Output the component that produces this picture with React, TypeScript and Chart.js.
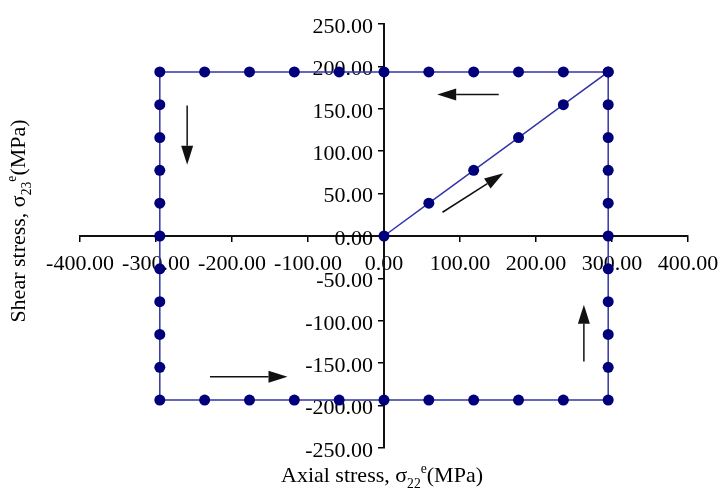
import React, { useEffect, useRef } from "react";
import { Chart, registerables } from "chart.js";

Chart.register(...registerables);

// Loading path (stress states), in MPa
const pathX = [
  0, 59, 118, 177, 236, 295,
  236, 177, 118, 59, 0, -59, -118, -177, -236, -295,
  -295, -295, -295, -295, -295, -295, -295, -295, -295, -295,
  -236, -177, -118, -59, 0, 59, 118, 177, 236, 295,
  295, 295, 295, 295, 295, 295, 295, 295, 295, 295,
];
const pathY = [
  0, 38.7, 77.4, 116.1, 154.8, 193.5,
  193.5, 193.5, 193.5, 193.5, 193.5, 193.5, 193.5, 193.5, 193.5, 193.5,
  154.8, 116.1, 77.4, 38.7, 0, -38.7, -77.4, -116.1, -154.8, -193.5,
  -193.5, -193.5, -193.5, -193.5, -193.5, -193.5, -193.5, -193.5, -193.5, -193.5,
  -154.8, -116.1, -77.4, -38.7, 0, 38.7, 77.4, 116.1, 154.8, 193.5,
];

// Direction arrows (data units)
const arrowFromX = [-259, 151, 77, -229, 263];
const arrowFromY = [154, 167, 28, -166, -148];
const arrowToX = [-259, 70, 157, -127, 263];
const arrowToY = [84, 167, 74, -166, -81];

const xTicks = [-400, -300, -200, -100, 0, 100, 200, 300, 400];
const yTicks = [-250, -200, -150, -100, -50, 0, 50, 100, 150, 200, 250];

const FONT = "'Liberation Serif', 'Times New Roman', serif";

function drawRich(
  ctx: CanvasRenderingContext2D,
  parts: { t: string; k: "n" | "sub" | "sup" }[],
  size: number
) {
  const measure = (p: { t: string; k: string }) => {
    const s = p.k === "n" ? size : size * 0.62;
    ctx.font = `${s}px ${FONT}`;
    return ctx.measureText(p.t).width;
  };
  const total = parts.reduce((a, p) => a + measure(p), 0);
  let x = -total / 2;
  for (const p of parts) {
    const s = p.k === "n" ? size : size * 0.62;
    ctx.font = `${s}px ${FONT}`;
    const dy = p.k === "sub" ? size * 0.28 : p.k === "sup" ? -size * 0.42 : 0;
    ctx.fillText(p.t, x, dy);
    x += ctx.measureText(p.t).width;
  }
}

const overlayPlugin = {
  id: "overlay",
  afterDatasetsDraw(chart: any) {
    const ctx: CanvasRenderingContext2D = chart.ctx;
    const xs = chart.scales.x;
    const ys = chart.scales.y;
    ctx.save();
    // arrows
    ctx.strokeStyle = "#111";
    ctx.fillStyle = "#111";
    ctx.lineWidth = 1.5;
    for (let i = 0; i < arrowFromX.length; i++) {
      const x1 = xs.getPixelForValue(arrowFromX[i]);
      const y1 = ys.getPixelForValue(arrowFromY[i]);
      const x2 = xs.getPixelForValue(arrowToX[i]);
      const y2 = ys.getPixelForValue(arrowToY[i]);
      const ang = Math.atan2(y2 - y1, x2 - x1);
      const hl = 19;
      const hw = 6;
      const bx = x2 - hl * Math.cos(ang);
      const by = y2 - hl * Math.sin(ang);
      ctx.beginPath();
      ctx.moveTo(x1, y1);
      ctx.lineTo(bx, by);
      ctx.stroke();
      ctx.beginPath();
      ctx.moveTo(x2, y2);
      ctx.lineTo(bx + hw * Math.sin(ang), by - hw * Math.cos(ang));
      ctx.lineTo(bx - hw * Math.sin(ang), by + hw * Math.cos(ang));
      ctx.closePath();
      ctx.fill();
    }
    // titles
    ctx.fillStyle = "#000";
    ctx.textBaseline = "alphabetic";
    ctx.textAlign = "left";
    ctx.save();
    ctx.translate(382, 482);
    drawRich(
      ctx,
      [
        { t: "Axial stress, σ", k: "n" },
        { t: "22", k: "sub" },
        { t: "e", k: "sup" },
        { t: "(MPa)", k: "n" },
      ],
      22
    );
    ctx.restore();
    ctx.save();
    ctx.translate(25, 221);
    ctx.rotate(-Math.PI / 2);
    drawRich(
      ctx,
      [
        { t: "Shear stress, σ", k: "n" },
        { t: "23", k: "sub" },
        { t: "e", k: "sup" },
        { t: "(MPa)", k: "n" },
      ],
      22
    );
    ctx.restore();
    ctx.restore();
  },
};

export default function App() {
  const ref = useRef<HTMLCanvasElement>(null);
  useEffect(() => {
    if (!ref.current) return;
    const data = pathX.map((x, i) => ({ x, y: pathY[i] }));
    const chart = new Chart(ref.current, {
      type: "scatter",
      data: {
        datasets: [
          {
            data,
            showLine: true,
            borderColor: "#3434aa",
            borderWidth: 1.5,
            backgroundColor: "#00007a",
            pointBackgroundColor: "#00007a",
            pointBorderColor: "#00007a",
            pointRadius: 5.5,
            pointBorderWidth: 0,
          },
        ],
      },
      options: {
        animation: false,
        responsive: false,
        layout: { padding: { left: 80, right: 32, top: 24, bottom: 49 } },
        plugins: { legend: { display: false }, tooltip: { enabled: false } },
        scales: {
          x: {
            type: "linear",
            min: -400,
            max: 400,
            position: { y: 0 } as any,
            afterBuildTicks: (s: any) => {
              s.ticks = xTicks.map((v) => ({ value: v }));
            },
            grid: { display: true, drawOnChartArea: false, drawTicks: true, tickLength: 5, color: "#000", lineWidth: 1.5 },
            border: { display: true, color: "#111", width: 2 },
            ticks: {
              color: "#000",
              font: { family: FONT, size: 22, lineHeight: 2.1 },
              padding: 0,
              maxRotation: 0,
              autoSkip: false,
              callback: (v: any) => Number(v).toFixed(2),
            },
          },
          y: {
            type: "linear",
            min: -250,
            max: 250,
            position: { x: 0 } as any,
            afterBuildTicks: (s: any) => {
              s.ticks = yTicks.map((v) => ({ value: v }));
            },
            grid: { display: true, drawOnChartArea: false, drawTicks: true, tickLength: 5, color: "#000", lineWidth: 1.5 },
            border: { display: true, color: "#111", width: 2 },
            ticks: {
              color: "#000",
              font: { family: FONT, size: 22 },
              padding: 2,
              labelOffset: 3,
              autoSkip: false,
              callback: (v: any) => Number(v).toFixed(2) + "  ",
            },
          },
        },
      },
      plugins: [overlayPlugin],
    });
    return () => chart.destroy();
  }, []);
  return (
    <div style={{ position: "absolute", left: 0, top: 0, width: 720, height: 497, background: "#fff" }}>
      <canvas ref={ref} width={720} height={497} />
    </div>
  );
}
